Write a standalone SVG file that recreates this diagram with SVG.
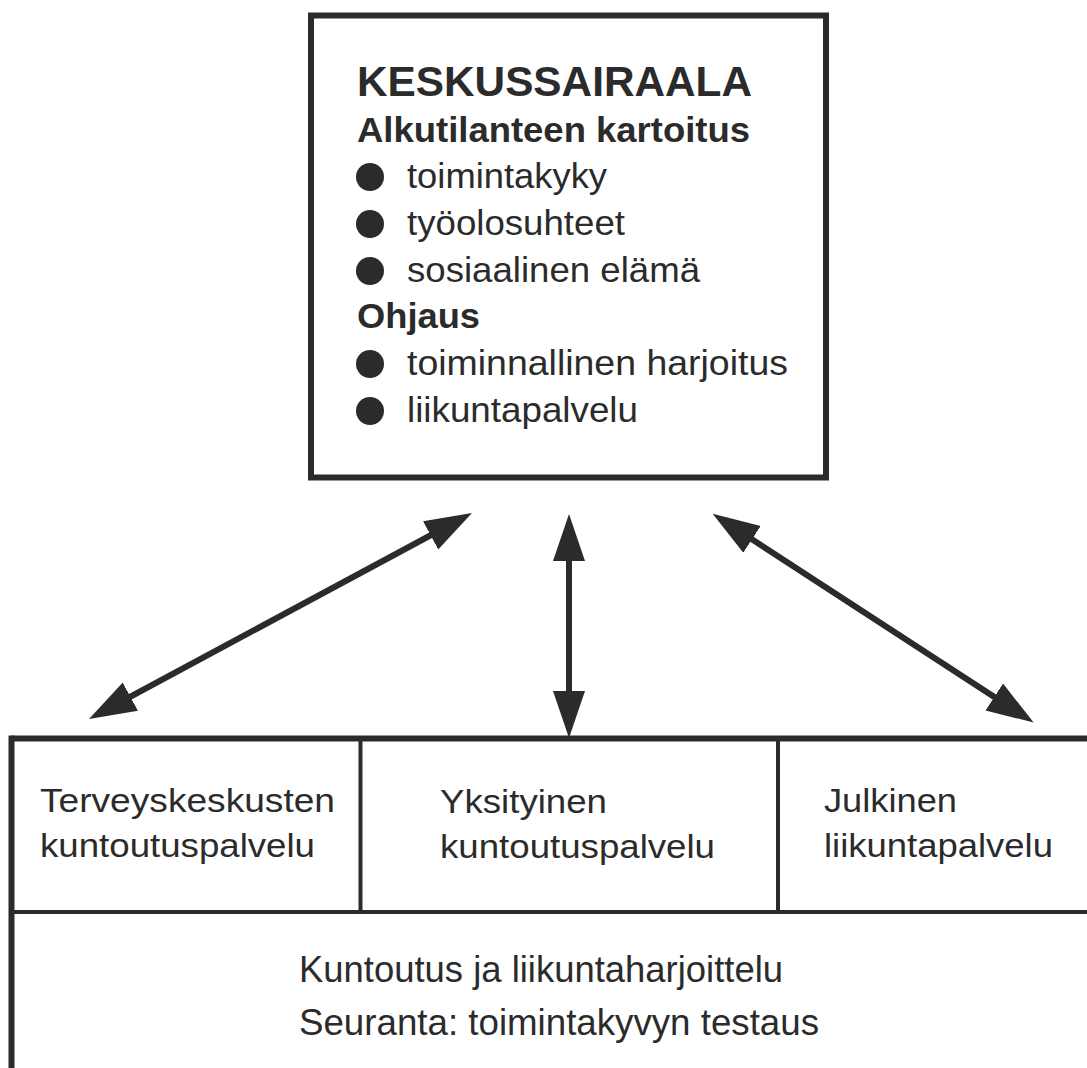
<svg xmlns="http://www.w3.org/2000/svg" width="1087" height="1068" viewBox="0 0 1087 1068">
<defs>
<marker id="ah" viewBox="0 -17 47 34" refX="27" refY="0" markerWidth="47" markerHeight="34" markerUnits="userSpaceOnUse" orient="auto-start-reverse">
<path d="M0,-16 L47,0 L0,16 z" fill="#2b2b2b"/>
</marker>
</defs>
<style>
.t{font-family:"Liberation Sans",Arial,sans-serif;fill:#2b2b2b}
.b{font-weight:bold}
.thick{fill:none;stroke:#2b2b2b;stroke-width:6}
.thin{fill:none;stroke:#2b2b2b;stroke-width:4}
.conn{stroke:#2b2b2b;stroke-width:6;fill:none;marker-start:url(#ah);marker-end:url(#ah)}
</style>
<rect width="1087" height="1068" fill="#ffffff"/>

<g id="keskussairaala">
<rect class="thick" x="311" y="15.5" width="515" height="462"/>
<text class="t b" x="357" y="96" font-size="42" textLength="395" lengthAdjust="spacingAndGlyphs">KESKUSSAIRAALA</text>
<text class="t b" x="357" y="142" font-size="35" textLength="393" lengthAdjust="spacingAndGlyphs">Alkutilanteen kartoitus</text>
<circle cx="370" cy="177" r="14" fill="#2b2b2b"/>
<text class="t" x="407" y="188" font-size="35" textLength="200" lengthAdjust="spacingAndGlyphs">toimintakyky</text>
<circle cx="370" cy="224" r="14" fill="#2b2b2b"/>
<text class="t" x="407" y="235" font-size="35" textLength="218" lengthAdjust="spacingAndGlyphs">työolosuhteet</text>
<circle cx="370" cy="271" r="14" fill="#2b2b2b"/>
<text class="t" x="407" y="282" font-size="35" textLength="293" lengthAdjust="spacingAndGlyphs">sosiaalinen elämä</text>
<text class="t b" x="357" y="328" font-size="35" textLength="123" lengthAdjust="spacingAndGlyphs">Ohjaus</text>
<circle cx="370" cy="364" r="14" fill="#2b2b2b"/>
<text class="t" x="407" y="375" font-size="35" textLength="381" lengthAdjust="spacingAndGlyphs">toiminnallinen harjoitus</text>
<circle cx="370" cy="411" r="14" fill="#2b2b2b"/>
<text class="t" x="407" y="422" font-size="35" textLength="231" lengthAdjust="spacingAndGlyphs">liikuntapalvelu</text>
</g>

<g id="connectors">
<line class="conn" x1="454.4" y1="522.5" x2="106.6" y2="709.5"/>
<line class="conn" x1="569" y1="534" x2="569" y2="718"/>
<line class="conn" x1="729.4" y1="524.6" x2="1016.9" y2="711.7"/>
</g>

<g id="table-frame">
<line class="thick" x1="11.5" y1="738.5" x2="1087" y2="738.5"/>
<line class="thick" x1="11.5" y1="735.5" x2="11.5" y2="1068"/>
<line class="thin" x1="11.5" y1="912" x2="1087" y2="912"/>
</g>

<g id="terveyskeskusten">
<text class="t" x="40" y="812" font-size="34" textLength="295" lengthAdjust="spacingAndGlyphs">Terveyskeskusten</text>
<text class="t" x="40" y="857" font-size="34" textLength="275" lengthAdjust="spacingAndGlyphs">kuntoutuspalvelu</text>
</g>

<g id="yksityinen">
<line class="thin" x1="360.5" y1="738" x2="360.5" y2="912"/>
<text class="t" x="440" y="813" font-size="34" textLength="167" lengthAdjust="spacingAndGlyphs">Yksityinen</text>
<text class="t" x="440" y="858" font-size="34" textLength="275" lengthAdjust="spacingAndGlyphs">kuntoutuspalvelu</text>
</g>

<g id="julkinen">
<line class="thin" x1="778" y1="738" x2="778" y2="912"/>
<text class="t" x="824" y="812" font-size="34" textLength="133" lengthAdjust="spacingAndGlyphs">Julkinen</text>
<text class="t" x="824" y="857" font-size="34" textLength="229" lengthAdjust="spacingAndGlyphs">liikuntapalvelu</text>
</g>

<g id="kuntoutus">
<text class="t" x="299" y="982" font-size="36" textLength="484" lengthAdjust="spacingAndGlyphs">Kuntoutus ja liikuntaharjoittelu</text>
<text class="t" x="299" y="1035" font-size="36" textLength="520" lengthAdjust="spacingAndGlyphs">Seuranta: toimintakyvyn testaus</text>
</g>
</svg>
